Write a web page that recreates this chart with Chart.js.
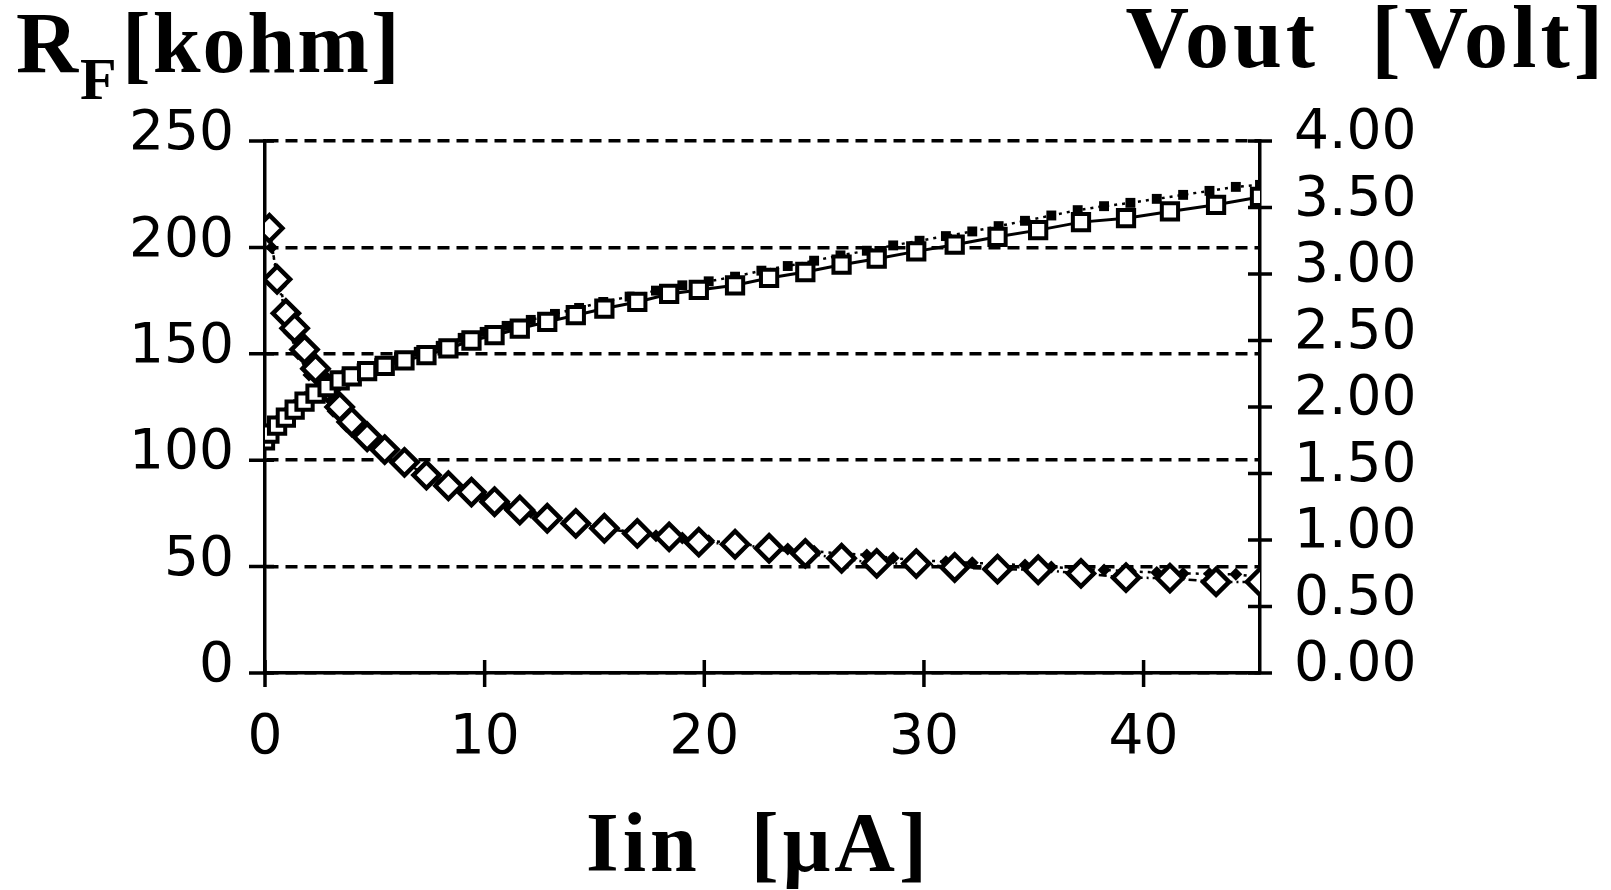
<!DOCTYPE html>
<html>
<head>
<meta charset="utf-8">
<script src="https://cdn.jsdelivr.net/npm/chart.js@4.4.1/dist/chart.umd.min.js"></script>
<style>
  html, body { margin: 0; padding: 0; background: #fff; }
  #wrap { width: 1611px; height: 890px; }
</style>
</head>
<body>
<div id="wrap"><canvas id="rfGraph"></canvas></div>
<script>
// measured points (open markers)
const iin = [0, 0.2, 0.55, 0.95, 1.35, 1.8, 2.3, 2.85, 3.4, 3.95, 4.65, 5.45, 6.35, 7.35, 8.35, 9.4,
             10.45, 11.6, 12.85, 14.15, 15.45, 16.95, 18.4, 19.75, 21.4, 22.95, 24.6, 26.25, 27.85,
             29.65, 31.4, 33.35, 35.2, 37.15, 39.2, 41.2, 43.3, 45.3];
const voutMeasured = [1.75, 1.80, 1.86, 1.92, 1.98, 2.04, 2.10, 2.15, 2.20, 2.23, 2.27, 2.31, 2.35, 2.39,
                      2.44, 2.50, 2.54, 2.59, 2.64, 2.69, 2.74, 2.79, 2.85, 2.88, 2.915, 2.97, 3.015,
                      3.07, 3.115, 3.17, 3.22, 3.28, 3.33, 3.39, 3.42, 3.47, 3.52, 3.58];
const rfMeasured = [null, 209, 185, 169, 162, 152, 143, 134, 125, 118, 111, 105, 99, 93, 88, 85, 80.5,
                    76.6, 72.7, 70.3, 68, 65.6, 64, 61.5, 60.5, 58.6, 56.2, 53.9, 51.5, 51.4, 49.6,
                    48.8, 48.5, 46.8, 44.8, 44.6, 42.8, 42.8];

// simulated points (small filled markers)
const iinSim = [0.3, 0.7, 1.1, 1.5, 2.0, 2.5, 3.1, 3.7, 4.4, 5.2, 6.1, 7.0, 8.0, 9.0, 10.0, 11.0, 12.1,
                13.2, 14.3, 15.4, 16.6, 17.8, 19.0, 20.2, 21.4, 22.6, 23.8, 25.0, 26.2, 27.4, 28.6,
                29.8, 31.0, 32.2, 33.4, 34.6, 35.8, 37.0, 38.2, 39.4, 40.6, 41.8, 43.0, 44.2, 45.3];
const voutSim = [1.84, 1.90, 1.96, 2.02, 2.08, 2.14, 2.20, 2.245, 2.29, 2.33, 2.375, 2.415, 2.46, 2.52,
                 2.565, 2.61, 2.655, 2.70, 2.745, 2.79, 2.83, 2.875, 2.915, 2.945, 2.98, 3.025, 3.06,
                 3.10, 3.14, 3.175, 3.215, 3.25, 3.285, 3.32, 3.36, 3.40, 3.44, 3.48, 3.51, 3.535,
                 3.565, 3.595, 3.625, 3.655, 3.67];
const rfSim = [200, 182, 160, 150, 140, 131, 123, 116, 110, 104, 98, 93, 89, 85.5, 82, 78.5, 75.5, 72.5,
               70, 68, 66.5, 64.5, 63.4, 62.2, 61, 59.5, 58.3, 57.2, 56.2, 55.5, 54, 53, 52.3, 51.8,
               51.2, 50.7, 49.8, 49, 48.4, 47.8, 47.2, 46.8, 46.6, 46.4, 45];

const iinTicks = [0, 10, 20, 30, 40];
const rfTicks = [0, 50, 100, 150, 200, 250];
const voutTicks = [0, 0.5, 1, 1.5, 2, 2.5, 3, 3.5, 4];

const rfTitle = ["R", "F", "[kohm]"];
const voutTitle = "Vout  [Volt]";
const iinTitle = "Iin  [μA]";

const toPoints = (xs, ys) => xs.map((x, i) => ({x: x, y: ys[i]}));
const fixTicks = (values) => (scale) => { scale.ticks = values.map(v => ({value: v})); };

const tickFont = {family: "DejaVu Sans", size: 55, lineHeight: 1};

// short marks crossing each axis at the tick positions
const crossTicks = {
    id: "crossTicks",
    beforeDatasetsDraw(chart) {
        const {ctx, chartArea: a, scales} = chart;
        ctx.save();
        ctx.strokeStyle = "#000";
        ctx.lineWidth = 3.5;
        ctx.beginPath();
        rfTicks.forEach(v => {
            const y = scales.y.getPixelForValue(v);
            ctx.moveTo(a.left - 16, y);
            ctx.lineTo(a.left + 9, y);
        });
        voutTicks.forEach(v => {
            const y = scales.y2.getPixelForValue(v);
            ctx.moveTo(a.right - 12, y);
            ctx.lineTo(a.right + 12, y);
        });
        iinTicks.forEach(v => {
            const x = scales.x.getPixelForValue(v);
            ctx.moveTo(x, a.bottom - 13);
            ctx.lineTo(x, a.bottom + 14);
        });
        ctx.stroke();
        ctx.restore();
    }
};

// axis names: two in the top corners, one under the x axis
const axisTitles = {
    id: "axisTitles",
    afterDraw(chart) {
        const ctx = chart.ctx;
        const a = chart.chartArea;
        ctx.save();
        ctx.fillStyle = "#000";
        ctx.textBaseline = "alphabetic";
        ctx.textAlign = "left";
        ctx.letterSpacing = "2px";
        ctx.font = 'bold 86px "Liberation Serif"';
        ctx.fillText(rfTitle[0], 16, 72);
        ctx.font = 'bold 60px "Liberation Serif"';
        ctx.fillText(rfTitle[1], 80, 99);
        ctx.font = 'bold 86px "Liberation Serif"';
        ctx.fillText(rfTitle[2], 122, 72);
        ctx.textAlign = "right";
        ctx.letterSpacing = "4px";
        ctx.font = 'bold 88px "Liberation Serif"';
        ctx.fillText(voutTitle, 1607, 67);
        ctx.textAlign = "center";
        ctx.letterSpacing = "4px";
        ctx.font = 'bold 84px "Liberation Serif"';
        ctx.fillText(iinTitle, (a.left + a.right) / 2 - 4, 871);
        ctx.restore();
    }
};

const ctx = document.getElementById("rfGraph");

new Chart(ctx, {
    type: "line",
    data: {
        datasets: [{
            label: "Vout",
            data: toPoints(iin, voutMeasured),
            yAxisID: "y2",
            borderColor: "#000",
            borderWidth: 3,
            pointStyle: "rect",
            pointRadius: 11.5,
            pointBorderWidth: 4,
            pointBorderColor: "#000",
            pointBackgroundColor: "#fff",
            order: 1
        }, {
            label: "Vout sim",
            data: toPoints(iinSim, voutSim),
            yAxisID: "y2",
            borderColor: "#000",
            borderWidth: 2.5,
            borderDash: [3, 5],
            pointStyle: "rect",
            pointRadius: 7,
            pointBorderWidth: 0,
            pointBackgroundColor: "#000",
            order: 2
        }, {
            label: "RF",
            data: toPoints(iin, rfMeasured),
            yAxisID: "y",
            borderColor: "#000",
            borderWidth: 2.5,
            borderDash: [8, 4, 2, 4],
            pointStyle: "rectRot",
            pointRadius: 13,
            pointBorderWidth: 4.5,
            pointBorderColor: "#000",
            pointBackgroundColor: "#fff",
            order: 1
        }, {
            label: "RF sim",
            data: toPoints(iinSim, rfSim),
            yAxisID: "y",
            borderColor: "#000",
            borderWidth: 2.5,
            borderDash: [3, 5],
            pointStyle: "rectRot",
            pointRadius: 6.5,
            pointBorderWidth: 0,
            pointBackgroundColor: "#000",
            order: 2
        }]
    },
    options: {
        animation: false,
        responsive: true,
        maintainAspectRatio: false,
        layout: {padding: {top: 141}},
        elements: {line: {tension: 0, fill: false}},
        plugins: {
            legend: {display: false},
            tooltip: {enabled: false}
        },
        scales: {
            x: {
                type: "linear",
                min: 0,
                max: 45.3,
                afterBuildTicks: fixTicks(iinTicks),
                afterFit: s => { s.height = 217; },
                grid: {display: false, drawTicks: false},
                border: {display: true, width: 3.5, color: "#000"},
                ticks: {color: "#000", font: tickFont, padding: 38, maxRotation: 0, autoSkip: false}
            },
            y: {
                position: "left",
                min: 0,
                max: 250,
                afterBuildTicks: fixTicks(rfTicks),
                afterFit: s => { s.width = 265; },
                grid: {color: "#000", lineWidth: 3.5, drawTicks: false},
                border: {display: true, width: 3.5, color: "#000", dash: [12, 7]},
                ticks: {color: "#000", font: tickFont, padding: 31, labelOffset: -6, autoSkip: false}
            },
            y2: {
                position: "right",
                min: 0,
                max: 4,
                afterBuildTicks: fixTicks(voutTicks),
                afterFit: s => { s.width = 351; },
                grid: {display: false, drawTicks: false},
                border: {display: true, width: 3.5, color: "#000"},
                ticks: {
                    color: "#000",
                    font: tickFont,
                    padding: 34,
                    labelOffset: -7,
                    autoSkip: false,
                    callback: v => v.toFixed(2)
                }
            }
        }
    },
    plugins: [crossTicks, axisTitles]
});
</script>
</body>
</html>
